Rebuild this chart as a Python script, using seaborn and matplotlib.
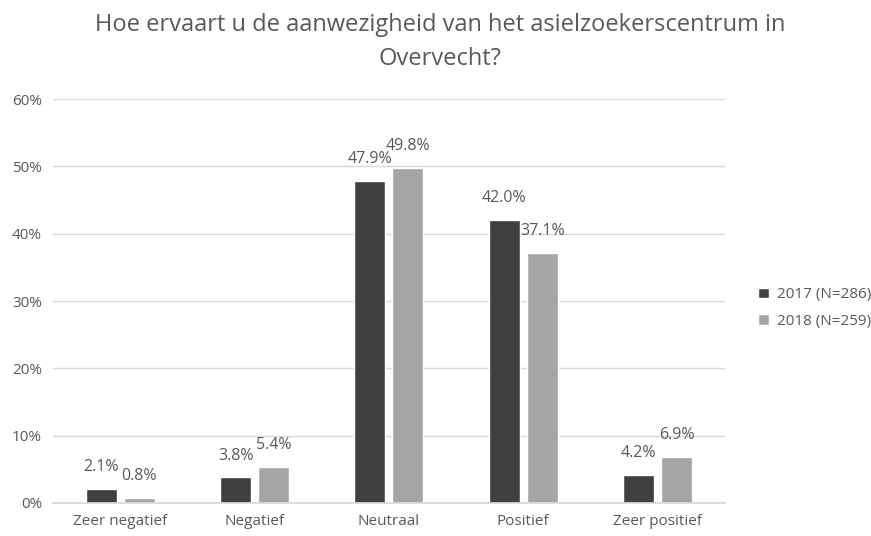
import matplotlib
matplotlib.use('Agg')
import matplotlib.pyplot as plt
import pandas as pd
import seaborn as sns
from matplotlib.ticker import PercentFormatter

categories = ['Zeer negatief', 'Negatief', 'Neutraal', 'Positief', 'Zeer positief']
series_names = ['2017 (N=286)', '2018 (N=259)']
values_2017 = [2.1, 3.8, 47.9, 42.0, 4.2]
values_2018 = [0.8, 5.4, 49.8, 37.1, 6.9]
title = 'Hoe ervaart u de aanwezigheid van het asielzoekerscentrum in\nOvervecht?'

df = pd.DataFrame({
    'categorie': categories * 2,
    'jaar': [series_names[0]] * len(categories) + [series_names[1]] * len(categories),
    'pct': values_2017 + values_2018,
})

sns.set_theme(style='white')
plt.rcParams['font.family'] = ['Open Sans', 'DejaVu Sans']
text_color = '#595959'

fig = plt.figure(figsize=(8.71, 5.36), dpi=100)
ax = fig.add_axes([0.061, 0.0616, 0.771, 0.7534])

sns.barplot(data=df, x='categorie', y='pct', hue='jaar', order=categories,
            hue_order=series_names, palette=['#404040', '#a5a5a5'],
            width=0.565, gap=0.18, ax=ax, legend=True, saturation=1)

# waardelabels boven de staven
for container in ax.containers:
    for bar in container:
        h = bar.get_height()
        ax.annotate(f'{h:.1f}%', (bar.get_x() + bar.get_width() / 2, h),
                    xytext=(0, 10), textcoords='offset points',
                    ha='center', va='bottom', fontsize=11.5, color=text_color)

ax.set_ylim(0, 60)
ax.set_yticks(range(0, 61, 10))
ax.yaxis.set_major_formatter(PercentFormatter(decimals=0))
ax.set_xlim(-0.5, 4.5)
ax.grid(axis='y', color='#d9d9d9', linewidth=1)
ax.set_axisbelow(True)
for side in ['top', 'right', 'left']:
    ax.spines[side].set_visible(False)
ax.spines['bottom'].set_color('#d9d9d9')
ax.set_xlabel('')
ax.set_ylabel('')
ax.tick_params(axis='both', length=0, labelsize=11, labelcolor=text_color, pad=8)

handles, labels = ax.get_legend_handles_labels()
ax.get_legend().remove()
fig.legend(handles, labels, loc='center left', bbox_to_anchor=(0.855, 0.425),
           frameon=False, fontsize=11, labelcolor=text_color,
           handlelength=0.7, handleheight=0.7, handletextpad=0.5, labelspacing=0.75)

fig.suptitle(title, x=0.505, y=0.975, fontsize=17, color=text_color, linespacing=1.55)

fig.savefig('out.png', dpi=100)
